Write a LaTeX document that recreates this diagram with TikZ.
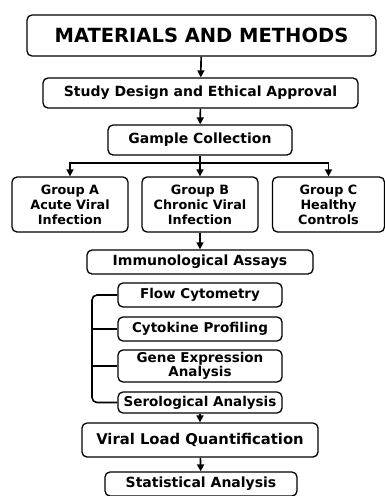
\documentclass[tikz,border=0pt]{standalone}
\usepackage{fontspec}
\setmainfont{DejaVu Sans}
\usetikzlibrary{arrows.meta}
\tikzset{
  box/.style={draw, line width=1.3pt, rounded corners=5pt, align=center, inner sep=1pt, font=\bfseries},
  link/.style={line width=1.6pt, -{Triangle[length=7pt,width=7pt]}},
  bar/.style={line width=1.6pt},
}
\begin{document}
\begin{tikzpicture}[x=1pt,y=-1pt]
  \useasboundingbox (0,0) rectangle (385,496);
  % Kopf
  \node[box, minimum width=349pt, minimum height=41pt, font=\bfseries\fontsize{19.5}{21}\selectfont] (title) at (201.5,35.5) {MATERIALS AND METHODS};
  \node[box, minimum width=315pt, minimum height=30pt, font=\bfseries\fontsize{14}{16}\selectfont] (design) at (200.5,93) {Study Design and Ethical Approval};
  \node[box, minimum width=184pt, minimum height=30pt, font=\bfseries\fontsize{14}{16}\selectfont] (sample) at (200,140) {Gample Collection};
  % Gruppen
  \node[box, minimum width=116pt, minimum height=55pt, font=\bfseries\fontsize{12.8}{15}\selectfont] (groupA) at (70,204.5) {Group A\\Acute Viral\\Infection};
  \node[box, minimum width=116pt, minimum height=55pt, font=\bfseries\fontsize{12.8}{15}\selectfont] (groupB) at (200,204.5) {Group B\\Chronic Viral\\Infection};
  \node[box, minimum width=112pt, minimum height=55pt, font=\bfseries\fontsize{12.8}{15}\selectfont] (groupC) at (328.5,204.5) {Group C\\Healthy\\Controls};
  % Assays
  \node[box, minimum width=226pt, minimum height=24pt, font=\bfseries\fontsize{14}{16}\selectfont] (assays) at (200,262) {Immunological Assays};
  \node[box, minimum width=164pt, minimum height=24pt, font=\bfseries\fontsize{13.5}{15}\selectfont] (flow) at (200,295) {Flow Cytometry};
  \node[box, minimum width=164pt, minimum height=24pt, font=\bfseries\fontsize{13.5}{15}\selectfont] (cyto) at (200,329) {Cytokine Profiling};
  \node[box, minimum width=164pt, minimum height=32pt, font=\bfseries\fontsize{13.5}{14}\selectfont] (gene) at (200,366) {Gene Expression\\Analysis};
  \node[box, minimum width=164pt, minimum height=21pt, font=\bfseries\fontsize{13.5}{15}\selectfont] (sero) at (200,402.5) {Serological Analysis};
  % Ende
  \node[box, minimum width=236pt, minimum height=34pt, font=\bfseries\fontsize{14.8}{17}\selectfont] (viral) at (200,440) {Viral Load Quantification};
  \node[box, minimum width=192pt, minimum height=24pt, font=\bfseries\fontsize{14}{16}\selectfont] (stats) at (201,484) {Statistical Analysis};
  % Pfeile
  \draw[link] (title) -- (design);
  \draw[link] (design) -- (sample);
  \draw[bar] (sample.south) -- (200,163) coordinate (split);
  \draw[link] (split) -| (groupA.north);
  \draw[link] (split) -- (groupB.north);
  \draw[link] (split) -| (groupC.north);
  \draw[link] (groupB) -- (assays);
  % Klammer
  \draw[bar, rounded corners=5pt] (flow.west) -| (92,330) |- (sero.west);
  \draw[bar] (92,329) -- (cyto.west);
  \draw[bar] (92,366) -- (gene.west);
  \draw[link] (sero) -- (viral);
  \draw[link] (viral) -- (stats);
\end{tikzpicture}
\end{document}
